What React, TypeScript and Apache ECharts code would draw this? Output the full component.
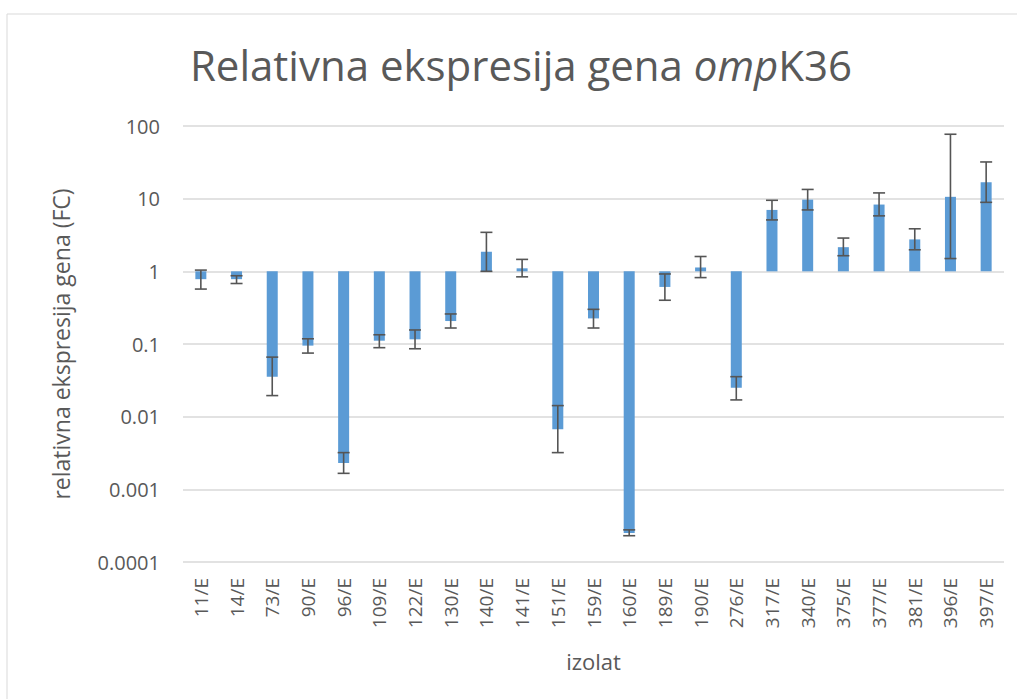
import React, { useEffect, useRef } from "react";
import * as echarts from "echarts";

const categories = ["11/E", "14/E", "73/E", "90/E", "96/E", "109/E", "122/E", "130/E", "140/E", "141/E", "151/E", "159/E", "160/E", "189/E", "190/E", "276/E", "317/E", "340/E", "375/E", "377/E", "381/E", "396/E", "397/E"];
const values = [0.78, 0.78, 0.0355, 0.095, 0.0023, 0.111, 0.116, 0.207, 1.86, 1.1, 0.0067, 0.225, 0.00025, 0.61, 1.13, 0.025, 7.0, 9.7, 2.15, 8.3, 2.75, 10.6, 16.8];
const errLow = [0.57, 0.68, 0.0195, 0.075, 0.00166, 0.089, 0.086, 0.166, 1.0, 0.84, 0.0032, 0.166, 0.00023, 0.4, 0.82, 0.017, 5.1, 7.0, 1.64, 5.8, 1.98, 1.5, 8.9];
const errHigh = [1.04, 0.87, 0.066, 0.118, 0.0032, 0.134, 0.156, 0.259, 3.44, 1.46, 0.0142, 0.3, 0.000277, 0.92, 1.6, 0.0355, 9.5, 13.4, 2.87, 12.0, 3.85, 77, 32];
const yTickLabels = ["0.0001", "0.001", "0.01", "0.1", "1", "10", "100"];

const FONT = '"Open Sans", "Noto Sans", sans-serif';
const TXT = "#595959";

export default function App() {
  const ref = useRef<HTMLDivElement>(null);
  useEffect(() => {
    document.body.style.margin = "0";
    const chart = echarts.init(ref.current!, undefined, { renderer: "svg" });
    chart.setOption({
      animation: false,
      backgroundColor: "#ffffff",
      textStyle: { fontFamily: FONT },
      graphic: [
        {
          type: "rect",
          shape: { x: 7, y: 14, width: 1200, height: 900 },
          style: { fill: "none", stroke: "#D9D9D9", lineWidth: 1 },
          silent: true,
        },
        {
          type: "text",
          x: 521,
          y: 64,
          style: {
            text: "{n|Relativna ekspresija gena }{i|omp}{n|K36}",
            align: "center",
            verticalAlign: "middle",
            rich: {
              n: { fontFamily: FONT, fontSize: 42, fill: TXT },
              i: { fontFamily: FONT, fontSize: 42, fill: TXT, fontStyle: "italic" },
            },
          },
        },
      ],
      grid: { left: 183, right: 13, top: 126, bottom: 137, containLabel: false },
      xAxis: {
        type: "category",
        data: categories,
        name: "izolat",
        nameLocation: "middle",
        nameGap: 88,
        nameTextStyle: { fontFamily: FONT, fontSize: 22, color: TXT },
        axisLine: { show: false },
        axisTick: { show: false },
        axisLabel: { rotate: 90, margin: 16, fontFamily: FONT, fontSize: 19, color: TXT, interval: 0 },
      },
      yAxis: {
        type: "log",
        logBase: 10,
        min: 0.0001,
        max: 100,
        name: "relativna ekspresija gena (FC)",
        nameLocation: "middle",
        nameGap: 111,
        nameTextStyle: { fontFamily: FONT, fontSize: 23, color: TXT },
        axisLine: { show: false },
        axisTick: { show: false },
        splitLine: { lineStyle: { color: "#D9D9D9", width: 1.5 } },
        axisLabel: {
          margin: 23,
          fontFamily: FONT,
          fontSize: 20,
          color: TXT,
          formatter: (v: number) => yTickLabels[Math.round(Math.log10(v)) + 4] ?? "",
        },
      },
      series: [
        {
          type: "bar",
          data: values,
          barWidth: 11,
          itemStyle: { color: "#5B9BD5" },
        },
        {
          type: "custom",
          data: categories.map((_, i) => [i, errLow[i], errHigh[i]]),
          encode: { x: 0, y: [1, 2] },
          z: 10,
          renderItem: (params: any, api: any) => {
            const i = api.value(0);
            const lo = api.coord([i, api.value(1)]);
            const hi = api.coord([i, api.value(2)]);
            const hw = 6;
            const style = { stroke: "#555555", lineWidth: 1.6 };
            return {
              type: "group",
              children: [
                { type: "line", shape: { x1: lo[0], y1: lo[1], x2: hi[0], y2: hi[1] }, style },
                { type: "line", shape: { x1: hi[0] - hw, y1: hi[1], x2: hi[0] + hw, y2: hi[1] }, style },
                { type: "line", shape: { x1: lo[0] - hw, y1: lo[1], x2: lo[0] + hw, y2: lo[1] }, style },
              ],
            };
          },
        },
      ],
    });
    return () => chart.dispose();
  }, []);
  return <div ref={ref} style={{ width: 1017, height: 699 }} />;
}
